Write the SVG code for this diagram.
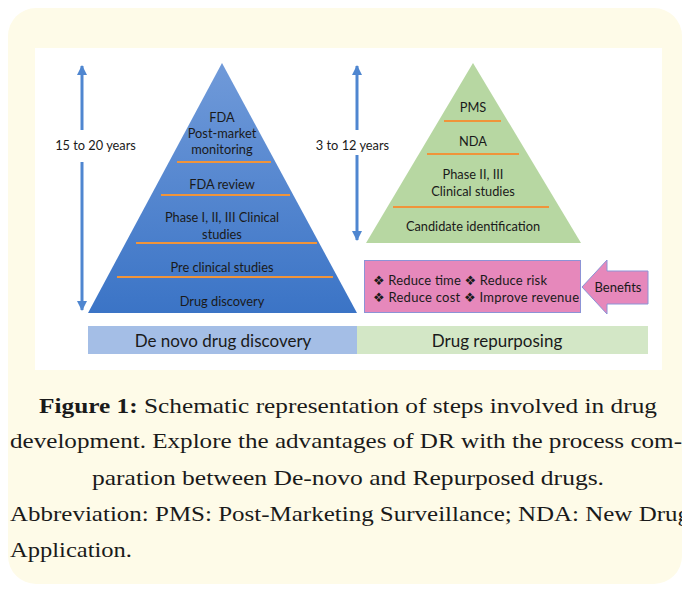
<svg xmlns="http://www.w3.org/2000/svg" width="682" height="589" viewBox="0 0 682 589">
<defs>
  <linearGradient id="gBlue" x1="0" y1="0" x2="0" y2="1">
    <stop offset="0" stop-color="#709ad9"/>
    <stop offset="1" stop-color="#3b74c6"/>
  </linearGradient>
  <marker id="ah" viewBox="0 0 10 10" refX="9" refY="5" markerWidth="10" markerHeight="10" markerUnits="userSpaceOnUse" orient="auto-start-reverse">
    <path d="M0,0 L10,5 L0,10 Z" fill="#4f86d0"/>
  </marker>
</defs>
<style>
  .lbl{font-family:Lato,"Open Sans","Liberation Sans",sans-serif;font-size:12.8px;fill:#1a1a1a;text-anchor:middle}
  .bar{font-family:Lato,"Open Sans","Liberation Sans",sans-serif;font-size:17px;fill:#1a1a1a;text-anchor:middle}
  .ben{font-family:Lato,"DejaVu Sans","Liberation Sans",sans-serif;font-size:13px;fill:#1a1a1a}
  .sep{stroke:#f0943a;stroke-width:2}
  .arr{stroke:#4f86d0;stroke-width:3;fill:none}
  .cap{font-family:"Liberation Serif","Times New Roman",serif;font-size:22px;fill:#1a1a1a}
</style>
<rect x="8" y="8" width="674" height="576" rx="28" fill="#fefbe8"/>
<rect x="35" y="48" width="627" height="322" fill="#ffffff"/>

<g id="connectors">
  <line class="arr" x1="82" y1="130" x2="82" y2="66" marker-end="url(#ah)"/>
  <line class="arr" x1="82" y1="162" x2="82" y2="310" marker-end="url(#ah)"/>
  <line class="arr" x1="357" y1="130" x2="357" y2="66" marker-end="url(#ah)"/>
  <line class="arr" x1="357" y1="155" x2="357" y2="240" marker-end="url(#ah)"/>
</g>

<g id="label-denovo-time">
  <text class="lbl" x="95.5" y="149.5">15 to 20 years</text>
</g>
<g id="label-repurpose-time">
  <text class="lbl" x="352.5" y="149.5">3 to 12 years</text>
</g>

<g id="pyramid-denovo">
  <polygon points="222,63 357,313 88,313" fill="url(#gBlue)"/>
  <line class="sep" x1="177" y1="162" x2="271" y2="162"/>
  <line class="sep" x1="161" y1="195" x2="290" y2="195"/>
  <line class="sep" x1="136" y1="243" x2="317" y2="243"/>
  <line class="sep" x1="117" y1="277" x2="333" y2="277"/>
  <text class="lbl" x="222" y="121.5">FDA</text>
  <text class="lbl" x="222" y="137.5">Post-market</text>
  <text class="lbl" x="222" y="154">monitoring</text>
  <text class="lbl" x="222" y="189">FDA review</text>
  <text class="lbl" x="222" y="221.5">Phase I, II, III Clinical</text>
  <text class="lbl" x="222" y="238.5">studies</text>
  <text class="lbl" x="222" y="272">Pre clinical studies</text>
  <text class="lbl" x="222" y="306">Drug discovery</text>
</g>

<g id="pyramid-repurposing">
  <polygon points="473,63 581,243 366,243" fill="#b7d7a2"/>
  <line class="sep" x1="444" y1="121" x2="501" y2="121"/>
  <line class="sep" x1="427" y1="154" x2="519" y2="154"/>
  <line class="sep" x1="393" y1="207" x2="549" y2="207"/>
  <text class="lbl" x="473" y="112">PMS</text>
  <text class="lbl" x="473" y="146">NDA</text>
  <text class="lbl" x="473" y="179">Phase II, III</text>
  <text class="lbl" x="473" y="196">Clinical studies</text>
  <text class="lbl" x="473" y="231">Candidate identification</text>
</g>

<g id="benefits-box">
  <rect x="364.5" y="260.5" width="216" height="52" fill="#e688bb" stroke="#8c93d6" stroke-width="1"/>
  <text class="ben" x="373" y="284.5" textLength="174" lengthAdjust="spacing">❖ Reduce time ❖ Reduce risk</text>
  <text class="ben" x="373" y="301.5" textLength="206" lengthAdjust="spacing">❖ Reduce cost ❖ Improve revenue</text>
</g>

<g id="benefits-arrow">
  <polygon points="582,287 607,260 607,271 648,271 648,304 607,304 607,314" fill="#e688bb" stroke="#8c93d6" stroke-width="1"/>
  <text class="ben" x="618" y="291.5" text-anchor="middle">Benefits</text>
</g>

<g id="bar-denovo">
  <rect x="88" y="326" width="269" height="28" fill="#a4bee6"/>
  <text class="bar" x="223" y="346.5">De novo drug discovery</text>
</g>
<g id="bar-repurposing">
  <rect x="357" y="326" width="291" height="28" fill="#d3e7c6"/>
  <text class="bar" x="497" y="346.5">Drug repurposing</text>
</g>

<g id="caption">
  <text class="cap" x="39" y="413" textLength="618" lengthAdjust="spacingAndGlyphs"><tspan font-weight="bold">Figure 1:</tspan> Schematic representation of steps involved in drug</text>
  <text class="cap" x="10" y="448" textLength="672" lengthAdjust="spacingAndGlyphs">development. Explore the advantages of DR with the process com-</text>
  <text class="cap" x="92" y="485" textLength="512" lengthAdjust="spacingAndGlyphs">paration between De-novo and Repurposed drugs.</text>
  <text class="cap" x="10" y="521" textLength="680" lengthAdjust="spacingAndGlyphs">Abbreviation: PMS: Post-Marketing Surveillance; NDA: New Drug</text>
  <text class="cap" x="10" y="557" textLength="122" lengthAdjust="spacingAndGlyphs">Application.</text>
</g>
</svg>
